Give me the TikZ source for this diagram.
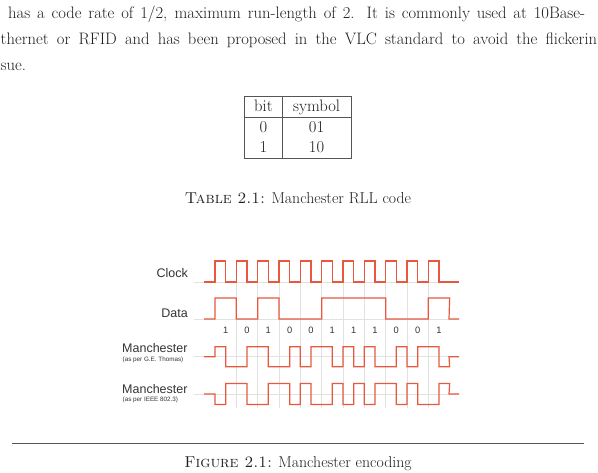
\documentclass[tikz,border=0pt]{standalone}
\usepackage{fontspec}
\newfontfamily\labelfont{Liberation Sans}
\definecolor{wavec}{HTML}{E8583E}
\definecolor{gridc}{HTML}{E2E2E2}
\definecolor{labc}{HTML}{333333}
\definecolor{rulec}{HTML}{555555}
\tikzset{
  body/.style={inner sep=0pt, font=\fontsize{16.6}{20}\selectfont, text=black!88},
  capt/.style={inner sep=0pt, font=\fontsize{15.8}{19}\selectfont, text=black!88},
  wave/.style={draw=wavec, line width=1.2pt, line join=miter},
  gridline/.style={draw=gridc, line width=0.8pt},
  siglabel/.style={inner sep=0pt, anchor=base east, text=labc, font=\labelfont\fontsize{12.5}{14}\selectfont},
  manlabel/.style={inner sep=0pt, anchor=base west, text=labc, font=\labelfont\fontsize{12.5}{14}\selectfont},
  sublabel/.style={inner sep=0pt, anchor=base west, text=labc, font=\labelfont\fontsize{6.3}{7}\selectfont},
  bitlabel/.style={inner sep=0pt, anchor=base, text=labc, font=\labelfont\fontsize{9.3}{10}\selectfont},
  tabrule/.style={draw=rulec, line width=0.9pt}
}
\begin{document}
\begin{tikzpicture}[x=1pt,y=-1pt]
\useasboundingbox (0,0) rectangle (598,472);
% body text
\node[body, anchor=base west] (l1) at (8,18.5) {\makebox[577pt][s]{has a code rate of 1/2, maximum run-length of 2. It is commonly used at 10Base-}};
\node[body, anchor=base west] (l2) at (0.5,44.5) {\makebox[596.5pt][s]{thernet or RFID and has been proposed in the VLC standard to avoid the flickerin}};
\node[body, anchor=base west] (l3) at (0.5,70) {sue.};
% table
\draw[tabrule] (244.5,96) rectangle (351,158.3);
\draw[tabrule] (282.3,96) -- (282.3,158.3);
\draw[tabrule] (244.5,117.3) -- (351,117.3);
\node[body, anchor=base] (tbit) at (263.4,111.5) {bit};
\node[body, anchor=base] (tsym) at (316.6,111.5) {symbol};
\node[body, anchor=base] (t0) at (263.4,132.7) {0};
\node[body, anchor=base] (t01) at (316.6,132.7) {01};
\node[body, anchor=base] (t1) at (263.4,152.3) {1};
\node[body, anchor=base] (t10) at (316.6,152.3) {10};
\node[capt, anchor=base] (tcap) at (298,203.5) {\textsc{Table 2.1:} Manchester RLL code};
% grid
\foreach \yy in {282,319,356.7,394} \draw[gridline] (194,\yy) -- (459,\yy);
\foreach \k in {1,...,10} \draw[gridline] ({215+\k*21.333},282) -- ({215+\k*21.333},408);
% clock
\draw[wave] (204,282) -- (215,282)
  \foreach \k in {0,...,10} { -- ({215+\k*21.333},261) -- ({215+(\k+0.5)*21.333},261) -- ({215+(\k+0.5)*21.333},282) -- ({215+(\k+1)*21.333},282) }
  -- (459,282);
% data
\draw[wave] (204,319) -- (215,319)
  \foreach \y [count=\i from 0] in {298,319,298,319,319,298,298,298,319,319,298} { -- ({215+\i*21.333},\y) -- ({215+(\i+1)*21.333},\y) }
  -- (449,319) -- (459,319);
% Manchester G.E. Thomas
\draw[wave] (204,356.7) -- (215,356.7)
  \foreach \y [count=\i from 0] in {346.7,366.7, 366.7,346.7, 346.7,366.7, 366.7,346.7, 366.7,346.7, 346.7,366.7, 346.7,366.7, 346.7,366.7, 366.7,346.7, 366.7,346.7, 346.7,366.7} { -- ({215+\i*10.6665},\y) -- ({215+(\i+1)*10.6665},\y) }
  -- (449,356.7) -- (459,356.7);
% Manchester IEEE 802.3
\draw[wave] (204,394) -- (215,394)
  \foreach \y [count=\i from 0] in {404.5,383.5, 383.5,404.5, 404.5,383.5, 383.5,404.5, 383.5,404.5, 404.5,383.5, 404.5,383.5, 404.5,383.5, 383.5,404.5, 383.5,404.5, 404.5,383.5} { -- ({215+\i*10.6665},\y) -- ({215+(\i+1)*10.6665},\y) }
  -- (449,394) -- (459,394);
% labels
\node[siglabel] (clk) at (188,277.2) {Clock};
\node[siglabel] (dat) at (188,317.2) {Data};
\foreach \b [count=\i from 0] in {1,0,1,0,0,1,1,1,0,0,1}
  \node[bitlabel] (bit\i) at ({225.667+\i*21.333},333.4) {\b};
\node[manlabel] (m1) at (122,352.8) {Manchester};
\node[sublabel] (m1s) at (122.5,361) {(as per G.E. Thomas)};
\node[manlabel] (m2) at (122,393.5) {Manchester};
\node[sublabel] (m2s) at (122.5,401.6) {(as per IEEE 802.3)};
% figure rule and caption
\draw[draw=rulec, line width=0.9pt] (12,443.5) -- (584,443.5);
\node[capt, anchor=base] (fcap) at (298,467.5) {\textsc{Figure 2.1:} Manchester encoding};
\end{tikzpicture}
\end{document}
